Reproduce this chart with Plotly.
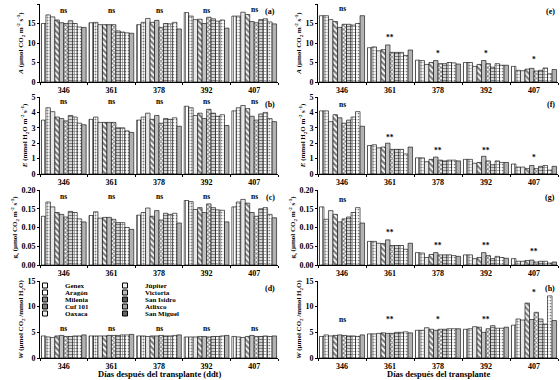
import plotly.graph_objects as go

days = ["346", "361", "378", "392", "407"]
cultivars = ["Genex", "Júpiter", "Aragón", "Victoria", "Milenia",
             "San Isidro", "Cuf 101", "Atlixco", "Oaxaca", "San Miguel"]

# each inner list: one sampling day, values in cultivar order
A_left = [[15.0, 17.2, 16.7, 15.9, 15.2, 15.0, 15.7, 15.0, 14.1, 14.0],
          [15.2, 15.3, 14.7, 14.7, 14.7, 14.7, 13.1, 12.8, 12.6, 12.5],
          [14.7, 15.3, 16.3, 15.3, 15.8, 14.0, 15.0, 14.9, 15.3, 13.6],
          [17.8, 16.9, 16.0, 16.1, 15.0, 16.6, 16.2, 15.6, 15.9, 13.8],
          [16.9, 16.9, 17.9, 17.3, 15.5, 15.2, 16.0, 16.2, 15.4, 14.9]]
A_right = [[17.0, 17.0, 16.0, 15.5, 14.0, 14.8, 14.8, 14.6, 15.0, 17.0],
           [8.8, 9.0, 8.0, 8.3, 9.5, 7.6, 7.6, 7.6, 6.8, 8.2],
           [5.6, 5.5, 4.5, 5.0, 5.5, 4.7, 4.7, 5.0, 4.9, 4.6],
           [5.0, 5.0, 4.0, 4.5, 5.5, 4.7, 3.8, 4.7, 4.3, 4.3],
           [4.0, 3.0, 2.9, 3.3, 3.5, 2.8, 3.0, 3.6, 2.1, 3.2]]
E_left = [[3.5, 4.3, 4.05, 3.7, 3.6, 3.45, 3.8, 3.7, 3.3, 3.2],
          [3.55, 3.7, 3.35, 3.35, 3.35, 3.35, 3.0, 3.0, 2.8, 2.7],
          [3.5, 3.7, 3.95, 3.55, 3.8, 3.3, 3.6, 3.55, 3.65, 3.1],
          [4.4, 4.3, 3.8, 3.95, 3.6, 4.2, 3.95, 3.75, 3.85, 3.15],
          [4.1, 4.3, 4.45, 4.25, 3.75, 3.5, 3.9, 4.0, 3.6, 3.4]]
E_right = [[4.1, 4.1, 3.4, 3.85, 3.65, 3.3, 3.5, 3.7, 4.05, 3.1],
           [1.85, 1.9, 1.7, 1.75, 2.0, 1.6, 1.6, 1.6, 1.3, 1.75],
           [1.05, 1.05, 0.8, 0.95, 1.1, 0.9, 0.85, 0.9, 0.9, 0.85],
           [0.95, 0.95, 0.7, 0.75, 1.15, 0.85, 0.6, 0.85, 0.75, 0.75],
           [0.65, 0.45, 0.45, 0.35, 0.55, 0.35, 0.5, 0.55, 0.25, 0.5]]
gs_left = [[0.130, 0.168, 0.155, 0.140, 0.135, 0.128, 0.143, 0.140, 0.123, 0.115],
           [0.132, 0.142, 0.125, 0.127, 0.127, 0.122, 0.113, 0.113, 0.100, 0.095],
           [0.133, 0.140, 0.152, 0.130, 0.145, 0.120, 0.138, 0.135, 0.138, 0.112],
           [0.172, 0.169, 0.148, 0.153, 0.140, 0.163, 0.153, 0.147, 0.146, 0.115],
           [0.155, 0.168, 0.175, 0.165, 0.140, 0.130, 0.150, 0.153, 0.135, 0.126]]
gs_right = [[0.155, 0.122, 0.145, 0.135, 0.115, 0.123, 0.128, 0.140, 0.153, 0.112],
            [0.063, 0.063, 0.058, 0.057, 0.067, 0.052, 0.052, 0.052, 0.042, 0.058],
            [0.033, 0.032, 0.020, 0.028, 0.033, 0.027, 0.027, 0.027, 0.025, 0.023],
            [0.027, 0.027, 0.017, 0.020, 0.033, 0.025, 0.017, 0.023, 0.020, 0.018],
            [0.017, 0.010, 0.010, 0.012, 0.013, 0.008, 0.010, 0.010, 0.005, 0.008]]
W_left = [[4.3, 4.1, 4.0, 4.3, 4.4, 4.2, 4.2, 4.3, 4.3, 4.5],
          [4.3, 4.3, 4.3, 4.3, 4.4, 4.4, 4.4, 4.5, 4.5, 4.6],
          [4.3, 4.3, 4.2, 4.3, 4.3, 4.4, 4.3, 4.3, 4.4, 4.5],
          [4.1, 4.1, 4.1, 4.2, 4.2, 4.1, 4.2, 4.2, 4.3, 4.4],
          [4.2, 4.1, 4.0, 4.2, 4.4, 4.2, 4.2, 4.3, 4.2, 4.3]]
W_right = [[4.2, 4.5, 4.3, 4.4, 4.5, 4.4, 4.3, 4.3, 4.2, 4.5],
           [4.7, 4.7, 4.8, 4.9, 4.8, 4.8, 5.0, 5.0, 5.1, 4.9],
           [5.4, 5.4, 5.9, 5.6, 5.4, 5.6, 5.6, 5.7, 5.7, 5.7],
           [5.6, 5.7, 6.1, 6.0, 5.0, 5.7, 6.3, 5.8, 5.8, 6.0],
           [6.4, 7.6, 7.4, 10.7, 7.5, 8.9, 7.6, 6.6, 12.1, 7.3]]

sig_a = ["ns", "ns", "ns", "ns", "ns"]
sig_b = ["ns", "ns", "ns", "ns", "ns"]
sig_c = ["ns", "ns", "ns", "ns", "ns"]
sig_d = ["ns", "ns", "ns", "ns", "ns"]
sig_e = ["ns", "**", "*", "*", "*"]
sig_f = ["ns", "**", "**", "**", "*"]
sig_g = ["ns", "**", "**", "**", "**"]
sig_h = ["ns", "**", "*", "**", "*"]

xtitle_left = "Días después del transplante (ddt)"
xtitle_right = "Días después del transplante"

# ---------------- styling ----------------
FONT = "Liberation Serif"
W, H = 560, 380
patterns = [
    dict(shape="|", size=3, solidity=0.35),
    dict(shape=".", size=3, solidity=0.35),
    dict(shape=".", size=2, solidity=0.2),
    dict(shape="\\", size=4, solidity=0.55),
    dict(shape="-", size=2, solidity=0.6),
    dict(shape="x", size=3, solidity=0.55),
    dict(shape="-", size=3, solidity=0.55),
    dict(shape="+", size=3, solidity=0.4),
    dict(shape=".", size=3, solidity=0.25),
    dict(shape="+", size=2, solidity=0.6),
]
legend_fill = ["white", "#f0f0f0", "white", "#bdbdbd", "#8a8a8a",
               "#555555", "#7a7a7a", "#a0a0a0", "#eeeeee", "#666666"]

colx = [[40 / W, 278 / W], [318 / W, 558 / W]]
rowy = [[1 - 82 / H, 1 - 4 / H], [1 - 174 / H, 1 - 97 / H],
        [1 - 265 / H, 1 - 190 / H], [1 - 358 / H, 1 - 281 / H]]

co2 = "(µmol CO<sub>2</sub> m<sup>-2</sup> s<sup>-1</sup>)"
h2o = "(mmol H<sub>2</sub>O m<sup>-2</sup> s<sup>-1</sup>)"
wue = "(µmol CO<sub>2</sub> /mmol H<sub>2</sub>O)"
panels = [
    # data, sig, ymax, dtick, fmt, title, label, col, row, pad, floor
    (A_left, sig_a, 20, 5, "d", "<i>A</i> " + co2, "(a)", 0, 0, 0.03, 0.92),
    (E_left, sig_b, 5, 1, "d", "<i>E</i> " + h2o, "(b)", 0, 1, 0.03, 0.94),
    (gs_left, sig_c, 0.20, 0.05, ".2f", "g<sub>s</sub> " + co2, "(c)", 0, 2, 0.03, 0.92),
    (W_left, sig_d, 15, 5, "d", "<i>W</i> " + wue, "(d)", 0, 3, 0.05, 0.38),
    (A_right, sig_e, 20, 5, "d", "<i>A</i> " + co2, "(e)", 1, 0, 0.09, 0.0),
    (E_right, sig_f, 5, 1, "d", "<i>E</i> " + h2o, "(f)", 1, 1, 0.08, 0.0),
    (gs_right, sig_g, 0.20, 0.05, ".2f", "g<sub>s</sub> " + co2, "(g)", 1, 2, 0.1, 0.0),
    (W_right, sig_h, 15, 5, "d", "<i>W</i> " + wue, "(h)", 1, 3, 0.05, 0.5),
]

fig = go.Figure()
annotations = []
layout = {}
for idx, (data, sig, ymax, dtick, fmt, ytitle, label, col, row, pad, floor) in enumerate(panels):
    n = idx + 1
    xa = "x" if n == 1 else f"x{n}"
    ya = "y" if n == 1 else f"y{n}"
    for c, name in enumerate(cultivars):
        fig.add_trace(go.Bar(
            x=days, y=[grp[c] for grp in data], name=name,
            xaxis=xa, yaxis=ya, showlegend=False,
            marker=dict(color="white", line=dict(color="black", width=0.6),
                        pattern=dict(fgcolor="black", bgcolor="white", **patterns[c])),
        ))
    layout[f"xaxis{'' if n == 1 else n}"] = dict(
        domain=colx[col], anchor=ya, type="category", range=[-0.5, len(days) - 0.5],
        categoryorder="array", categoryarray=days,
        showline=True, linecolor="black",
        linewidth=1, ticks="outside", tickson="boundaries", ticklen=2, tickcolor="black",
        tickfont=dict(family=FONT, size=8, color="black", weight="bold"),
        showgrid=False, zeroline=False, fixedrange=True,
    )
    layout[f"yaxis{'' if n == 1 else n}"] = dict(
        domain=rowy[row], anchor=xa, range=[0, ymax], dtick=dtick, tickformat=fmt,
        showline=True, linecolor="black", linewidth=1, ticks="outside", ticklen=2,
        tickcolor="black", showgrid=False, zeroline=False, fixedrange=True,
        tickfont=dict(family=FONT, size=8, color="black", weight="bold"),
        title=dict(text=ytitle, font=dict(family=FONT, size=7, color="black", weight="bold"),
                   standoff=2),
    )
    for g, s in enumerate(sig):
        yv = max(max(data[g]) + pad * ymax, floor * ymax)
        annotations.append(dict(x=g, y=yv, xref=xa, yref=ya, text=s, showarrow=False,
                                yanchor="middle",
                                font=dict(family=FONT, size=7.5, color="black", weight="bold")))
    annotations.append(dict(x=0.995, y=0.99, xref=f"{xa} domain", yref=f"{ya} domain", text=label,
                            showarrow=False, xanchor="right", yanchor="top",
                            font=dict(family=FONT, size=8, color="black", weight="bold")))

for xa, txt in (("x4", xtitle_left), ("x8", xtitle_right)):
    annotations.append(dict(x=0.5, y=0, xref=f"{xa} domain", yref="paper", text=txt,
                            showarrow=False, yanchor="bottom", borderpad=0,
                            font=dict(family=FONT, size=8.5, color="black", weight="bold")))

# legend: five rows of two entries
legend_rows_px = [285.5, 292.5, 299.5, 306.5, 313.5]
for r in range(5):
    key = "legend" if r == 0 else f"legend{r + 1}"
    for c in (2 * r, 2 * r + 1):
        fig.add_trace(go.Scatter(
            x=[None], y=[None], mode="markers", name=cultivars[c], legend=key,
            xaxis="x4", yaxis="y4", hoverinfo="skip",
            marker=dict(symbol="square", size=5, color=legend_fill[c],
                        line=dict(color="black", width=1)),
        ))
    layout[key] = dict(
        x=25 / W, y=1 - legend_rows_px[r] / H, xanchor="left", yanchor="middle",
        orientation="h", bgcolor="rgba(0,0,0,0)", borderwidth=0,
        entrywidth=35, entrywidthmode="pixels", itemwidth=30, traceorder="normal",
        font=dict(family=FONT, size=7, color="black", weight="bold"),
    )

fig.update_layout(
    width=W, height=H, margin=dict(l=0, r=0, t=0, b=0, autoexpand=False),
    paper_bgcolor="white", plot_bgcolor="white",
    barmode="group", bargap=0.06, bargroupgap=0,
    annotations=annotations, **layout,
)

fig.write_html("out.html", config={"displayModeBar": False},
               post_script="document.body.style.margin='0';document.body.style.overflow='hidden';")
